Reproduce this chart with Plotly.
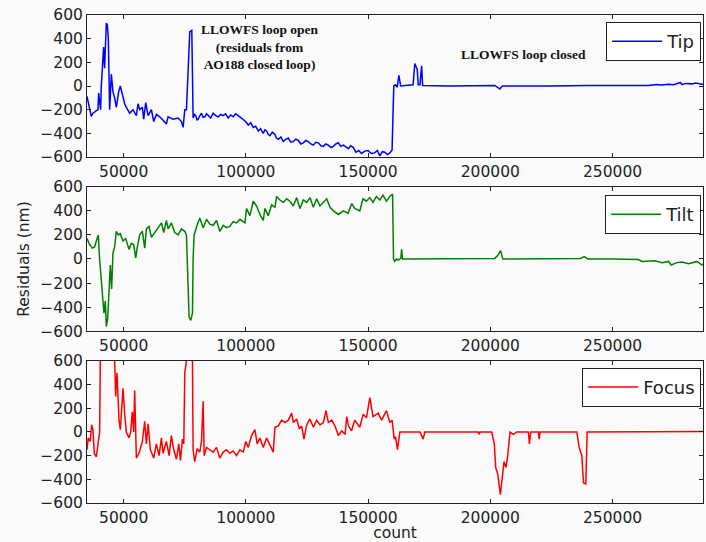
import plotly.graph_objects as go

# ---------------- data ----------------
tip_x = [35000, 36750, 37430, 38530, 39480, 39760, 40570, 40850, 41260, 41800, 42200, 42620, 42900,
         43300, 43720, 44260, 44950, 45630, 46310, 47000, 47950, 48630, 49450, 50410, 51090, 52460,
         53820, 55190, 55870, 56560, 57650, 58200, 59020, 59970, 61340, 62290, 63390, 64750, 66120,
         67480, 68170, 70220, 72270, 73630, 74310, 75000, 75680, 76360, 77050, 77870,
         78410, 79000, 79510, 80000, 80460, 81200, 81830, 82500, 83200, 83900, 84560, 85600, 86610,
         87600, 88660, 89700, 90710, 91700, 92760, 93800, 94800, 95800, 96850, 97900, 98900, 99900,
         100950, 102000, 103000, 104000, 105050, 106000, 107100, 107800, 108460, 109200, 109830,
         110800, 111880, 112500, 113250, 114300, 115300, 116300, 117340, 118400, 119390, 120400,
         121440, 122500, 123490, 124500, 125540, 126600, 127590, 128600, 129640, 130700, 131690,
         132700, 133740, 134800, 135790, 136800, 137840, 138800, 139880, 140900, 141930, 142900,
         143980, 145000, 146200, 147300, 148600, 150000, 151300, 152700, 153800, 154800, 155800,
         156800, 157900, 158900, 159800,
         160500, 161200, 161900, 162600, 163300, 166400, 168400, 169100, 170100, 170500, 171200,
         171900, 172300, 182800, 201800, 203900, 204900, 223800, 239500, 264700, 268000, 270000,
         273000, 275000, 277700, 278400, 280000, 282500, 284000, 286600, 287000]
tip_y = [-88, -257, -230, -215, -200, -60, -200, 0, 130, 330, 150, 400, 530,
         520, 400, -200, 100, -50, -100, -180, -50, 0, -80, -150, -180, -230,
         -200, -250, -150, -200, -180, -280, -140, -250, -200, -300, -240, -260, -290,
         -320, -260, -280, -270, -300, -350, -200, -200, 200, 460, 470,
         -270, -240, -250, -290, -280, -250, -230, -265, -260, -235, -250, -270, -230,
         -250, -260, -240, -250, -235, -270, -245, -260, -235, -250, -265, -280, -300,
         -330, -310, -350, -340, -380, -360, -400, -370, -380, -410, -420,
         -390, -410, -440, -450, -430, -470, -450, -440, -475, -470, -450,
         -460, -490, -480, -460, -470, -490, -500, -475, -480, -505, -510,
         -490, -500, -520, -510, -490, -480, -510, -500, -515, -530, -505,
         -520, -560, -545, -570, -550, -545, -570, -565, -545, -590, -555,
         -560, -580, -565, -540,
         0, 10, -10, 90, 0, 5, 10, 190, 140, 10, 10,
         170, 5, 0, 5, -25, 0, 0, 5, 5, 12, 8,
         15, 10, 30, 12, 22, 18, 25, 15, 15]

tilt_x = [35000, 36070, 37160, 38120, 38800, 39620, 40160, 40850, 41530, 41940, 42490, 42900, 43440,
          43990, 44540, 45080, 45630, 46310, 47000, 47810, 48630, 49730, 50820, 52190, 53140, 54100,
          54920, 55600, 56560, 57650, 58610, 59290, 60380, 61340, 62700, 64070, 65440, 66390, 67480,
          68170, 69530, 70900, 72270, 73630, 75000, 75680, 76360, 76770, 77460, 78140, 78410, 78820,
          80050, 81140, 82510, 83880, 85240, 86610, 87980, 89340, 90710, 92070, 93440, 94800, 96170,
          97540, 99590, 100270, 101640, 103000, 104370, 105740, 107100, 107780, 109150, 110520,
          111880, 112570, 113930, 115300, 116660, 118030, 119390, 120760, 122120, 123490, 124860,
          126220, 127590, 128960, 130320, 131690, 133050, 134420, 135790, 137840, 139880, 141800,
          143300, 144540, 146600, 147900, 149300, 150700, 152000, 153400, 154800, 156100, 157500,
          158900, 160000, 160400, 160900, 161600, 162300, 163400, 163700, 164100, 182800, 201800,
          203100, 204200, 205100, 223800, 236800, 238500, 239900, 250000, 260600, 262000, 264700,
          267400, 270200, 272900, 274000, 276300, 278400, 281100, 284500, 286600, 287000]
tilt_y = [170, 120, 90, 100, 150, 200, 0, -200, -350, -450, -350, -560, -500,
          -250, -50, -250, 50, 100, 230, 200, 210, 150, 170, 80, 130, 120,
          10, 100, 200, 230, 90, 250, 270, 180, 220, 270, 300, 220, 320,
          250, 300, 220, 200, 250, 230, 200, -200, -480, -510, -450, 0, 200,
          280, 340, 260, 330, 290, 280, 320, 230, 280, 260, 270, 310, 300,
          330, 300, 420, 360, 480, 440, 370, 320, 420, 360, 450,
          430, 520, 490, 470, 500, 480, 440, 510, 420, 490, 470,
          510, 430, 500, 440, 470, 500, 430, 400, 370, 400, 380,
          460, 420, 400, 500, 480, 510, 470, 520, 490, 530, 480,
          520, 540, 0, -20, 0, -10, 5, 80, 0, 0, 5,
          30, 70, 0, 0, 5, 20, 0, 0, -5, -20, -20,
          -15, -30, -20, -50, -30, -25, -40, -20, -50, -40]

focus_x = [35000, 35520, 36340, 36890, 37430, 37980, 38800, 39480, 40160, 40440, 43000, 46310, 46720,
           47270, 48090, 48630, 49730, 50410, 51090, 52190, 52870, 53550, 54100, 54510, 55190, 56280,
           57650, 58610, 59290, 59970, 60930, 62290, 63390, 64480, 65440, 66120, 67480, 68580, 69530,
           70490, 71580, 72540, 73220, 74040, 74590, 75000, 75680, 77000, 78140, 78410, 79100, 80050,
           81140, 81830, 82510, 82920, 83880, 85240, 86610, 87980, 89340, 90710, 92070, 93440, 94800,
           96170, 97540, 98900, 99990, 100950, 102320, 103680, 104640, 105730, 107100, 108460, 109830,
           111200, 111880, 113250, 114610, 115980, 117340, 118710, 119390, 120760, 121850, 122810,
           123760, 124860, 126220, 127590, 128960, 130320, 131690, 132780, 133740, 135100, 136470,
           137840, 139200, 140570, 141250, 142000, 143200, 144500, 146600, 148000, 149300, 150700,
           152000, 154100, 155500, 157500, 158900, 159800, 160700, 161200, 162000, 163000, 165700,
           171200, 172500, 173200, 195080, 195350, 195760, 200540, 201630, 202180, 203000, 204090,
           204910, 205600, 206420, 207100, 208060, 209420, 210790, 215570, 215980, 216520, 219670,
           219940, 220350, 235380, 236330, 237420, 238110, 239060, 239610, 287000]
focus_y = [-150, -50, -80, 60, 20, -180, -210, -80, 0, 600, 1200, 600, 300,
           500, 100, 20, 370, 150, 0, -50, 0, 170, 0, 350, -220, -180,
           -80, 90, -100, 70, -150, -220, -100, -200, -50, -180, -80, -200, -30,
           -150, -230, -100, -240, -60, -100, 500, 600, 1000, 600, -150, -250, -140,
           -170, -80, 260, -200, -130, -150, -170, -130, -220, -170, -150, -180, -160,
           -200, -150, -170, -80, -130, -30, 20, -100, -50, -130, -50, -110,
           -170, 40, 50, 100, 80, 100, 160, 80, 110, 30, 50,
           -60, 60, 110, 40, 100, 60, 80, 180, 80, 100, 50,
           -30, 10, -20, 130, 50, 10, 100, 40, 150, 120, 290,
           130, 160, 100, 180, 80, 100, -60, -40, -150, 0, 0,
           0, -60, 0, 0, -20, 0, 0, -100, -300, -350, -530,
           -380, -250, -300, -200, 0, -20, 0, 0, -100, 0, 0,
           -60, 0, 0, -130, -200, -430, -440, 0, 5]

x_ticks = [50000, 100000, 150000, 200000, 250000]
y_ticks = [-600, -400, -200, 0, 200, 400, 600]
x_range = [35000, 287000]
y_range = [-600, 600]

# ---------------- figure ----------------
TXT = "#222222"
fig = go.Figure()
fig.add_trace(go.Scatter(x=tip_x, y=tip_y, mode="lines", name="Tip",
                         line=dict(color="#0000ff", width=1.5), xaxis="x", yaxis="y", legend="legend"))
fig.add_trace(go.Scatter(x=tilt_x, y=tilt_y, mode="lines", name="Tilt",
                         line=dict(color="#008000", width=1.5), xaxis="x2", yaxis="y2", legend="legend2"))
fig.add_trace(go.Scatter(x=focus_x, y=focus_y, mode="lines", name="Focus",
                         line=dict(color="#ff0000", width=1.5), xaxis="x3", yaxis="y3", legend="legend3"))

ax = dict(showline=True, linecolor=TXT, linewidth=1, mirror="ticks", ticks="inside", ticklen=4,
          tickcolor=TXT, showgrid=False, zeroline=False,
          tickfont=dict(family="DejaVu Sans", size=15.5, color=TXT))
xax = dict(ax, range=x_range, tickvals=x_ticks, tickformat="d")
yax = dict(ax, range=y_range, tickvals=y_ticks)

leg = dict(font=dict(family="DejaVu Sans", size=18, color=TXT), bgcolor="white", bordercolor=TXT,
           borderwidth=1, xanchor="right", yanchor="top", x=0.997, itemwidth=50)

fig.update_layout(
    width=706, height=542,
    margin=dict(l=87, r=3, t=15, b=39),
    paper_bgcolor="#fafafa", plot_bgcolor="#fafafa",
    showlegend=True,
    xaxis=dict(xax, domain=[0, 1], anchor="y"),
    xaxis2=dict(xax, domain=[0, 1], anchor="y2"),
    xaxis3=dict(xax, domain=[0, 1], anchor="y3",
                title=dict(text="count", font=dict(family="DejaVu Sans", size=15.5, color=TXT), standoff=2)),
    yaxis=dict(yax, domain=[0.709, 1.0], anchor="x"),
    yaxis2=dict(yax, domain=[0.352, 0.648], anchor="x2",
                title=dict(text="Residuals (nm)", font=dict(family="DejaVu Sans", size=15.5, color=TXT), standoff=6)),
    yaxis3=dict(yax, domain=[0.0, 0.291], anchor="x3"),
    legend=dict(leg, y=0.9857),
    legend2=dict(leg, y=0.631),
    legend3=dict(leg, y=0.277),
    annotations=[
        dict(text="<b>LLOWFS loop open<br>(residuals from<br>AO188 closed loop)</b>", xref="paper", yref="paper",
             x=0.281, y=0.934, xanchor="center", yanchor="middle", showarrow=False,
             font=dict(family="Liberation Serif", size=13.5, color="#111111")),
        dict(text="<b>LLOWFS loop closed</b>", xref="paper", yref="paper",
             x=0.7086, y=0.920, xanchor="center", yanchor="middle", showarrow=False,
             font=dict(family="Liberation Serif", size=13.5, color="#111111")),
    ],
)

fig.write_html("out.html")
